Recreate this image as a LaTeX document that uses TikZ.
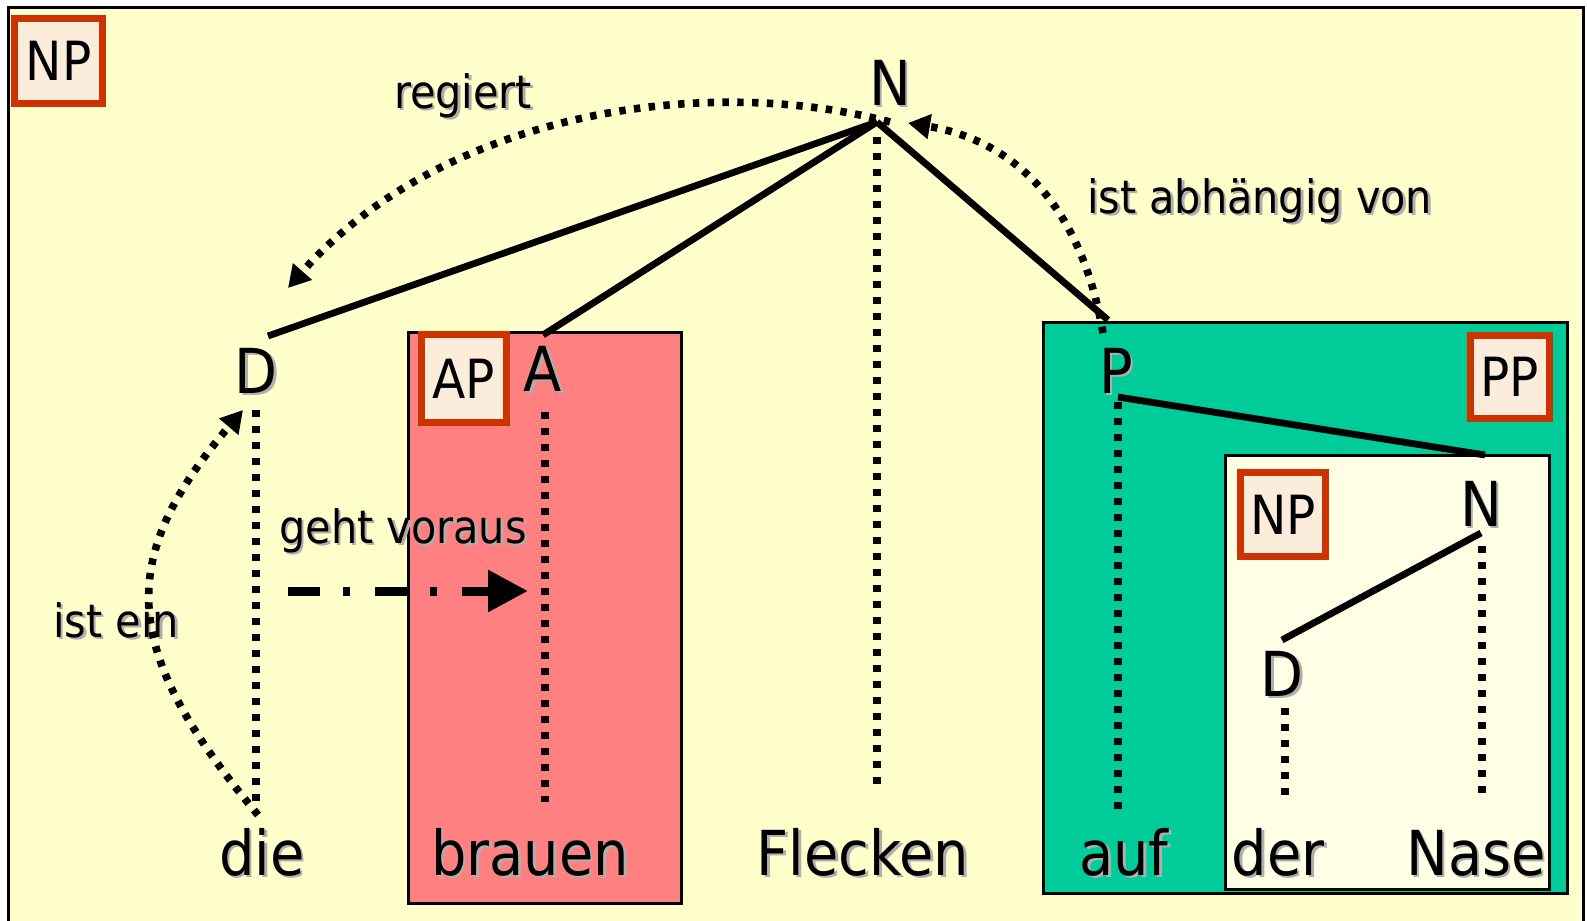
\documentclass[tikz,border=0pt]{standalone}
\usepackage{fontspec}
\setsansfont{DejaVu Sans Condensed}
\usepackage{tikz}
\tikzset{every picture/.style={/utils/exec={\sffamily}}}
\usetikzlibrary{arrows.meta}
\definecolor{shadowColor}{RGB}{175,175,175}
\newcommand{\shd}[1]{\makebox[0pt][l]{\hspace{1.3pt}\raisebox{-1.3pt}{\textcolor{shadowColor}{#1}}}#1}
\tikzset{
  cat/.style={anchor=base,inner sep=0pt,outer sep=0pt,font=\fontsize{31}{36}\selectfont},
  lbl/.style={anchor=base,inner sep=0pt,outer sep=0pt,font=\fontsize{23}{27}\selectfont},
  tag/.style={draw=tagColor,line width=3.5pt,fill=tagFill,inner sep=0pt,font=\fontsize{27}{30}\selectfont},
  branch/.style={line width=3.4pt},
  dotline/.style={line width=4pt,dash pattern=on 3.5pt off 4.5pt},
  relarrow/.style={line width=3.8pt,dash pattern=on 3.2pt off 4.2pt,-{Triangle[length=11pt,width=12pt]}},
  precarrow/.style={line width=4.5pt,dash pattern=on 16pt off 11.5pt on 3.5pt off 12.5pt,-{Triangle[length=20pt,width=20pt]}}
}

\begin{document}
\begin{tikzpicture}[x=0.5pt,y=-0.5pt]
\definecolor{bgColor}{RGB}{255,255,204}
\definecolor{apColor}{RGB}{255,128,128}
\definecolor{ppColor}{RGB}{0,204,153}
\definecolor{npColor}{RGB}{255,255,229}
\definecolor{tagColor}{RGB}{204,51,0}
\definecolor{tagFill}{RGB}{251,236,219}
\path[use as bounding box,fill=white] (0,0) rectangle (1587,921);

\begin{scope}
\path[fill=bgColor] (8,7) rectangle (1583,921);
\path[draw=black,line width=1.5pt] (8,921) -- (8,7) -- (1583,7) -- (1583,921);
\path[draw=black,line width=1.5pt,fill=apColor] (408,332) rectangle (681,903);
\path[draw=black,line width=1.5pt,fill=ppColor] (1043,322) rectangle (1567,893);
\path[draw=black,line width=1.5pt,fill=npColor] (1225,455) rectangle (1549,889);
\end{scope}

\begin{scope}
\node[tag,minimum width=44pt,minimum height=42.5pt] (tagNP) at (58.5,61) {NP};
\node[tag,minimum width=42.5pt,minimum height=44pt] (tagAP) at (464,378.5) {AP};
\node[tag,minimum width=39.5pt,minimum height=41.5pt] (tagPP) at (1510,377) {PP};
\node[tag,minimum width=42.5pt,minimum height=42pt] (tagNPi) at (1283,514.5) {NP};
\end{scope}

\begin{scope}
\node[cat] (N0) at (890,105) {\shd{N}};
\node[cat] (D0) at (256,393) {\shd{D}};
\node[cat] (A0) at (543,391) {\shd{A}};
\node[cat] (P0) at (1116,393) {\shd{P}};
\node[cat] (N1) at (1481,526) {\shd{N}};
\node[cat] (D1) at (1282,696) {\shd{D}};

\node[cat] (die) at (262,875) {\shd{die}};
\node[cat] (brauen) at (530,875) {\shd{brauen}};
\node[cat] (Flecken) at (863,875) {\shd{Flecken}};
\node[cat] (auf) at (1124,875) {\shd{auf}};
\node[cat] (der) at (1278,875) {\shd{der}};
\node[cat] (Nase) at (1476,875) {\shd{Nase}};

\node[lbl] (regiert) at (463,108) {\shd{regiert}};
\node[lbl,anchor=base west] (abh) at (1087,213) {\shd{ist abhängig von}};
\node[lbl] (istein) at (116,637) {\shd{ist ein}};
\node[lbl] (geht) at (403,543) {\shd{geht voraus}};
\end{scope}

\coordinate (N0j) at (877,122);
\coordinate (D0t) at (268,336);
\coordinate (A0t) at (543,335);
\coordinate (P0t) at (1108,320);
\coordinate (P0b) at (1118,397);
\coordinate (N1t) at (1485,455);
\coordinate (N1b) at (1481,533);
\coordinate (D1t) at (1282,640);

\coordinate (N0v) at (877,137);
\coordinate (Fleckv) at (877,787);
\coordinate (D0v) at (256,410);
\coordinate (diev) at (256,810);
\coordinate (A0v) at (545,412);
\coordinate (brauenv) at (545,802);
\coordinate (P0v) at (1118,402);
\coordinate (aufv) at (1118,818);
\coordinate (D1v) at (1285,708);
\coordinate (derv) at (1285,800);
\coordinate (N1v) at (1482,546);
\coordinate (Nasev) at (1482,802);

\coordinate (N0r) at (890,122);
\coordinate (D0r) at (288,288);
\coordinate (P0r) at (1103,333);
\coordinate (N0a) at (908,123);
\coordinate (dier) at (258,815);
\coordinate (D0i) at (243,410);
\coordinate (gehtS) at (288,591);
\coordinate (gehtE) at (528,591);

\draw[branch] (N0j) -- (D0t);
\draw[branch] (N0j) -- (A0t);
\draw[branch] (N0j) -- (P0t);
\draw[branch] (P0b) -- (N1t);
\draw[branch] (N1b) -- (D1t);

\draw[dotline] (N0v) -- (Fleckv);
\draw[dotline] (D0v) -- (diev);
\draw[dotline] (A0v) -- (brauenv);
\draw[dotline] (P0v) -- (aufv);
\draw[dotline] (D1v) -- (derv);
\draw[dotline] (N1v) -- (Nasev);

\draw[relarrow] (N0r) .. controls (700,72) and (440,115) .. (D0r);
\draw[relarrow] (P0r) .. controls (1080,200) and (1010,140) .. (N0a);
\draw[relarrow] (dier) .. controls (120,650) and (115,560) .. (D0i);
\draw[precarrow] (gehtS) -- (gehtE);
\end{tikzpicture}
\end{document}
